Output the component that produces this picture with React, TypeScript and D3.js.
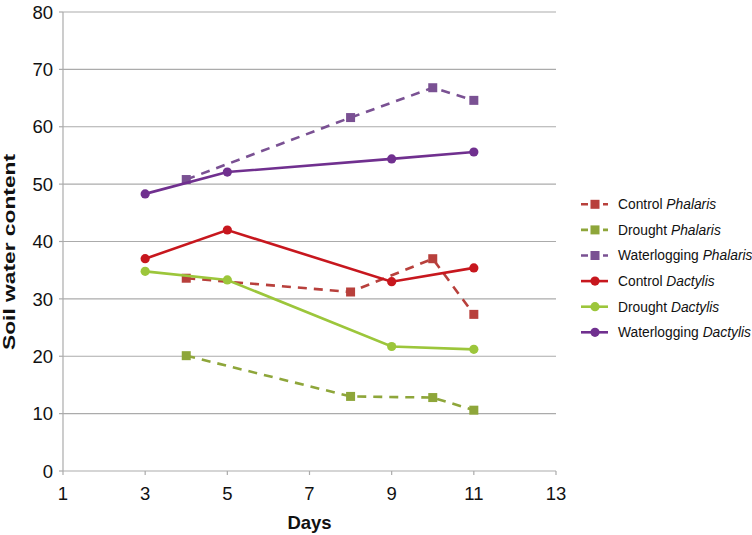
import React from "react";
import * as d3 from "d3";

// values
const phalarisDays = [4, 8, 10, 11];
const dactylisDays = [3, 5, 9, 11];

const controlPhalaris = [33.6, 31.2, 37.0, 27.3];
const droughtPhalaris = [20.1, 13.0, 12.8, 10.6];
const waterPhalaris = [50.8, 61.6, 66.8, 64.6];
const controlDactylis = [37.0, 42.0, 33.0, 35.4];
const droughtDactylis = [34.8, 33.3, 21.7, 21.2];
const waterDactylis = [48.3, 52.1, 54.4, 55.6];

const xTicks = [1, 3, 5, 7, 9, 11, 13];
const yTicks = [0, 10, 20, 30, 40, 50, 60, 70, 80];

interface Series {
  treatment: string;
  species: string;
  days: number[];
  values: number[];
  color: string;
  dashed: boolean;
  marker: "square" | "circle";
}

const series: Series[] = [
  { treatment: "Control", species: "Phalaris", days: phalarisDays, values: controlPhalaris, color: "#b8403c", dashed: true, marker: "square" },
  { treatment: "Drought", species: "Phalaris", days: phalarisDays, values: droughtPhalaris, color: "#8ea63a", dashed: true, marker: "square" },
  { treatment: "Waterlogging", species: "Phalaris", days: phalarisDays, values: waterPhalaris, color: "#7a5193", dashed: true, marker: "square" },
  { treatment: "Control", species: "Dactylis", days: dactylisDays, values: controlDactylis, color: "#c7171e", dashed: false, marker: "circle" },
  { treatment: "Drought", species: "Dactylis", days: dactylisDays, values: droughtDactylis, color: "#9cc63b", dashed: false, marker: "circle" },
  { treatment: "Waterlogging", species: "Dactylis", days: dactylisDays, values: waterDactylis, color: "#70308f", dashed: false, marker: "circle" },
];

const W = 752;
const H = 535;
const margin = { top: 12, left: 63, right: 196, bottom: 64 };
const font = "'Liberation Sans', Arial, Helvetica, sans-serif";

const Marker = ({ kind, x, y, color }: { kind: string; x: number; y: number; color: string }) =>
  kind === "square" ? (
    <rect x={x - 4.5} y={y - 4.5} width={9} height={9} fill={color} />
  ) : (
    <circle cx={x} cy={y} r={4.6} fill={color} />
  );

export default function App() {
  const x = d3.scaleLinear().domain([1, 13]).range([margin.left, W - margin.right]);
  const y = d3.scaleLinear().domain([0, 80]).range([H - margin.bottom, margin.top]);

  const line = d3
    .line<[number, number]>()
    .x((d) => x(d[0]))
    .y((d) => y(d[1]));

  const legendX = 581;
  const legendY0 = 204.3;
  const legendStep = 25.6;

  return (
    <div style={{ position: "absolute", left: 0, top: 0 }}>
      <svg width={W} height={H} style={{ display: "block", background: "#fff" }} fontFamily={font}>
        {/* grid */}
        {yTicks.slice(1).map((t) => (
          <line key={t} x1={x(1)} x2={x(13)} y1={y(t)} y2={y(t)} stroke="#ababab" strokeWidth={1.2} />
        ))}
        {/* y axis */}
        <line x1={x(1)} x2={x(1)} y1={y(0)} y2={y(80)} stroke="#ababab" strokeWidth={1.2} />
        {yTicks.map((t) => (
          <g key={t}>
            <line x1={x(1) - 4} x2={x(1)} y1={y(t)} y2={y(t)} stroke="#ababab" strokeWidth={1.2} />
            <text x={53} y={y(t)} dy="0.36em" textAnchor="end" fontSize={18.5} fill="#111">
              {t}
            </text>
          </g>
        ))}
        {/* x axis */}
        <line x1={x(1)} x2={x(13)} y1={y(0)} y2={y(0)} stroke="#ababab" strokeWidth={1.2} />
        {xTicks.map((t) => (
          <g key={t}>
            <line x1={x(t)} x2={x(t)} y1={y(0)} y2={y(0) + 4} stroke="#ababab" strokeWidth={1.2} />
            <text x={x(t)} y={500} textAnchor="middle" fontSize={18.5} fill="#111">
              {t}
            </text>
          </g>
        ))}
        <text x={(x(1) + x(13)) / 2} y={529} textAnchor="middle" fontSize={18.5} fontWeight="bold" fill="#111">
          Days
        </text>
        <text
          transform={`translate(15, 252) rotate(-90)`}
          textAnchor="middle"
          fontSize={16.5}
          fontWeight="bold"
          fill="#111"
          textLength={196}
          lengthAdjust="spacingAndGlyphs"
        >
          Soil water content
        </text>

        {/* series */}
        {series.map((s, i) => {
          const pts = s.days.map((d, j) => [d, s.values[j]] as [number, number]);
          return (
            <g key={i}>
              <path
                d={line(pts) ?? ""}
                fill="none"
                stroke={s.color}
                strokeWidth={2.6}
                strokeDasharray={s.dashed ? "9,7" : undefined}
              />
              {pts.map((p, j) => (
                <Marker key={j} kind={s.marker} x={x(p[0])} y={y(p[1])} color={s.color} />
              ))}
            </g>
          );
        })}

        {/* legend */}
        {series.map((s, i) => {
          const ly = legendY0 + i * legendStep;
          return (
            <g key={i}>
              <line
                x1={legendX}
                x2={legendX + 27}
                y1={ly}
                y2={ly}
                stroke={s.color}
                strokeWidth={2.6}
                strokeDasharray={s.dashed ? "7,4" : undefined}
              />
              <Marker kind={s.marker} x={legendX + 14} y={ly} color={s.color} />
              <text x={618} y={ly} dy="0.36em" fontSize={13.8} fill="#111">
                {s.treatment} <tspan fontStyle="italic">{s.species}</tspan>
              </text>
            </g>
          );
        })}
      </svg>
    </div>
  );
}
